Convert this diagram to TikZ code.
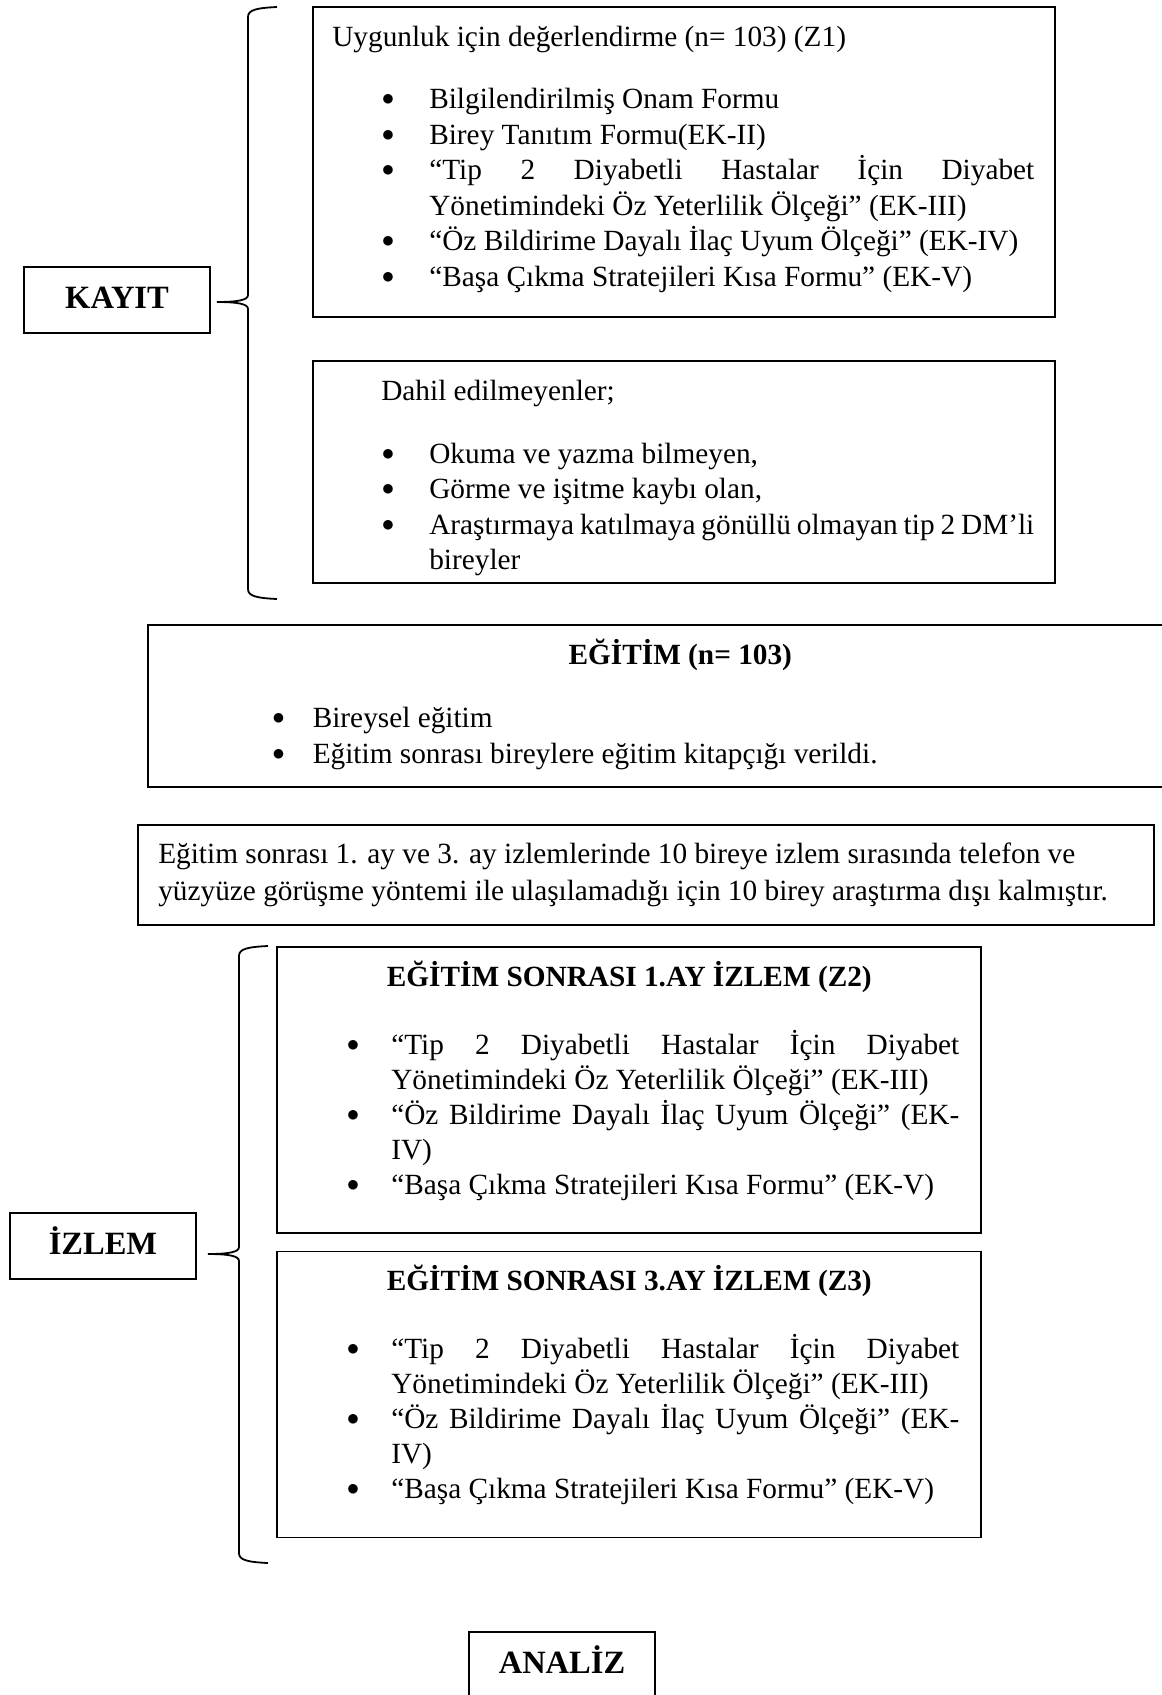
\documentclass[tikz,border=0pt]{standalone}
\usepackage{fontspec}
\setmainfont{Liberation Serif}
\usepackage{enumitem}
\setlist[itemize]{label=\raisebox{3pt}{$\bullet$}, itemsep=0pt, parsep=0pt, topsep=0pt, partopsep=0pt, labelsep=35pt}
\setlength{\parindent}{0pt}

% strut for the first line of a box
\newcommand{\fst}{\rule{0pt}{27pt}}

\begin{document}
\begin{tikzpicture}[x=1pt, y=-1pt,
	box/.style={draw, line width=1.8pt, inner sep=0pt},
	tag/.style={box, line width=1.6pt, minimum width=186pt, minimum height=66pt, text height=24pt, text depth=8pt, font=\fontsize{32.5}{38}\selectfont\bfseries},
	content/.style={inner sep=0pt, anchor=north west, align=justify, font=\fontsize{29.3}{35.5}\selectfont},
	brace line/.style={line width=1.8pt}]
	\useasboundingbox (0,0) rectangle (1162,1695);
	
	% Kayit
	\node[tag] (kayit) at (117,300) {KAYIT};
	
	\node[box, minimum width=742pt, minimum height=310pt] (uygunluk) at (684,162) {};
	\node[content, text width=702pt] (uygunluk text) at ([shift={(20,13)}]uygunluk.north west) {\fst Uygunluk için değerlendirme (n= 103) (Z1)\par\vspace{27pt}
		\begin{itemize}[leftmargin=97pt]
			\item Bilgilendirilmiş Onam Formu
			\item Birey Tanıtım Formu(EK-II)
			\item “Tip 2 Diyabetli Hastalar İçin Diyabet\linebreak Yönetimindeki Öz Yeterlilik Ölçeği” (EK-III)
			\item “Öz Bildirime Dayalı İlaç Uyum Ölçeği” (EK-IV)
			\item “Başa Çıkma Stratejileri Kısa Formu” (EK-V)
		\end{itemize}};
	
	\node[box, minimum width=742pt, minimum height=222pt] (dahil) at (684,472) {};
	\node[content, text width=702pt, font=\fontsize{29.3}{35.5}\selectfont] (dahil text) at ([shift={(20,13)}]dahil.north west) {\fst\hspace*{49pt}Dahil edilmeyenler;\par\vspace{27.5pt}
		\begin{itemize}[leftmargin=97pt]
			\item Okuma ve yazma bilmeyen,
			\item Görme ve işitme kaybı olan,
			\item Araştırmaya katılmaya gönüllü olmayan tip 2 DM’li\linebreak bireyler
		\end{itemize}};
	
	% Egitim
	\node[box, minimum width=1066pt, minimum height=162pt] (egitim) at (681,706) {};
	\node[content, text width=902pt, font=\fontsize{29.3}{36}\selectfont] (egitim text) at ([shift={(82,13)}]egitim.north west) {{\centering\bfseries\fst EĞİTİM (n= 103)\par}\vspace{27pt}
		\begin{itemize}[leftmargin=83.5pt, labelsep=28pt]
			\item Bireysel eğitim
			\item Eğitim sonrası bireylere eğitim kitapçığı verildi.
		\end{itemize}};
	
	\node[box, minimum width=1016pt, minimum height=100pt] (kayip) at (646,875) {};
	\node[content, align=left, font=\fontsize{29.3}{37}\selectfont] (kayip text) at ([shift={(21,12)}]kayip.north west) {\fst Eğitim sonrası 1. ay ve 3. ay izlemlerinde 10 bireye izlem sırasında telefon ve\\yüzyüze görüşme yöntemi ile ulaşılamadığı için 10 birey araştırma dışı kalmıştır.};
	
	% Izlem
	\node[tag] (izlem) at (103,1246) {İZLEM};
	
	\foreach \n/\ay/\cy in {2/1/1090, 3/3/1394.5} {
		\node[box, minimum width=704pt, minimum height=286pt] (z\n) at (629,\cy) {};
		\node[content, text width=660pt, font=\fontsize{29.3}{35}\selectfont] (z\n text) at ([shift={(23,13)}]z\n.north west) {{\centering\bfseries\fst EĞİTİM SONRASI \ay.AY İZLEM (Z\n)\par}\vspace{33pt}
			\begin{itemize}[leftmargin=92pt, labelsep=32pt]
				\item “Tip 2 Diyabetli Hastalar İçin Diyabet\linebreak Yönetimindeki Öz Yeterlilik Ölçeği” (EK-III)
				\item “Öz Bildirime Dayalı İlaç Uyum Ölçeği” (EK-\linebreak IV)
				\item “Başa Çıkma Stratejileri Kısa Formu” (EK-V)
			\end{itemize}};
	}
	
	% Braces
	\foreach \x/\t/\m/\b in {248/7/302/599, 239/946/1254/1563} {
		\draw[brace line] (\x+29,\t) .. controls (\x+8,\t+1) and (\x,\t+3) .. (\x,\t+10)
			-- (\x,\m-7) .. controls (\x,\m-2) and (\x-10,\m) .. (\x-31,\m)
			.. controls (\x-10,\m) and (\x,\m+2) .. (\x,\m+7)
			-- (\x,\b-10) .. controls (\x,\b-3) and (\x+8,\b-1) .. (\x+29,\b);
	}
	
	% Analiz
	\node[tag, anchor=north, minimum height=80pt, text depth=20pt] (analiz) at (562,1631) {ANALİZ};
\end{tikzpicture}
\end{document}
